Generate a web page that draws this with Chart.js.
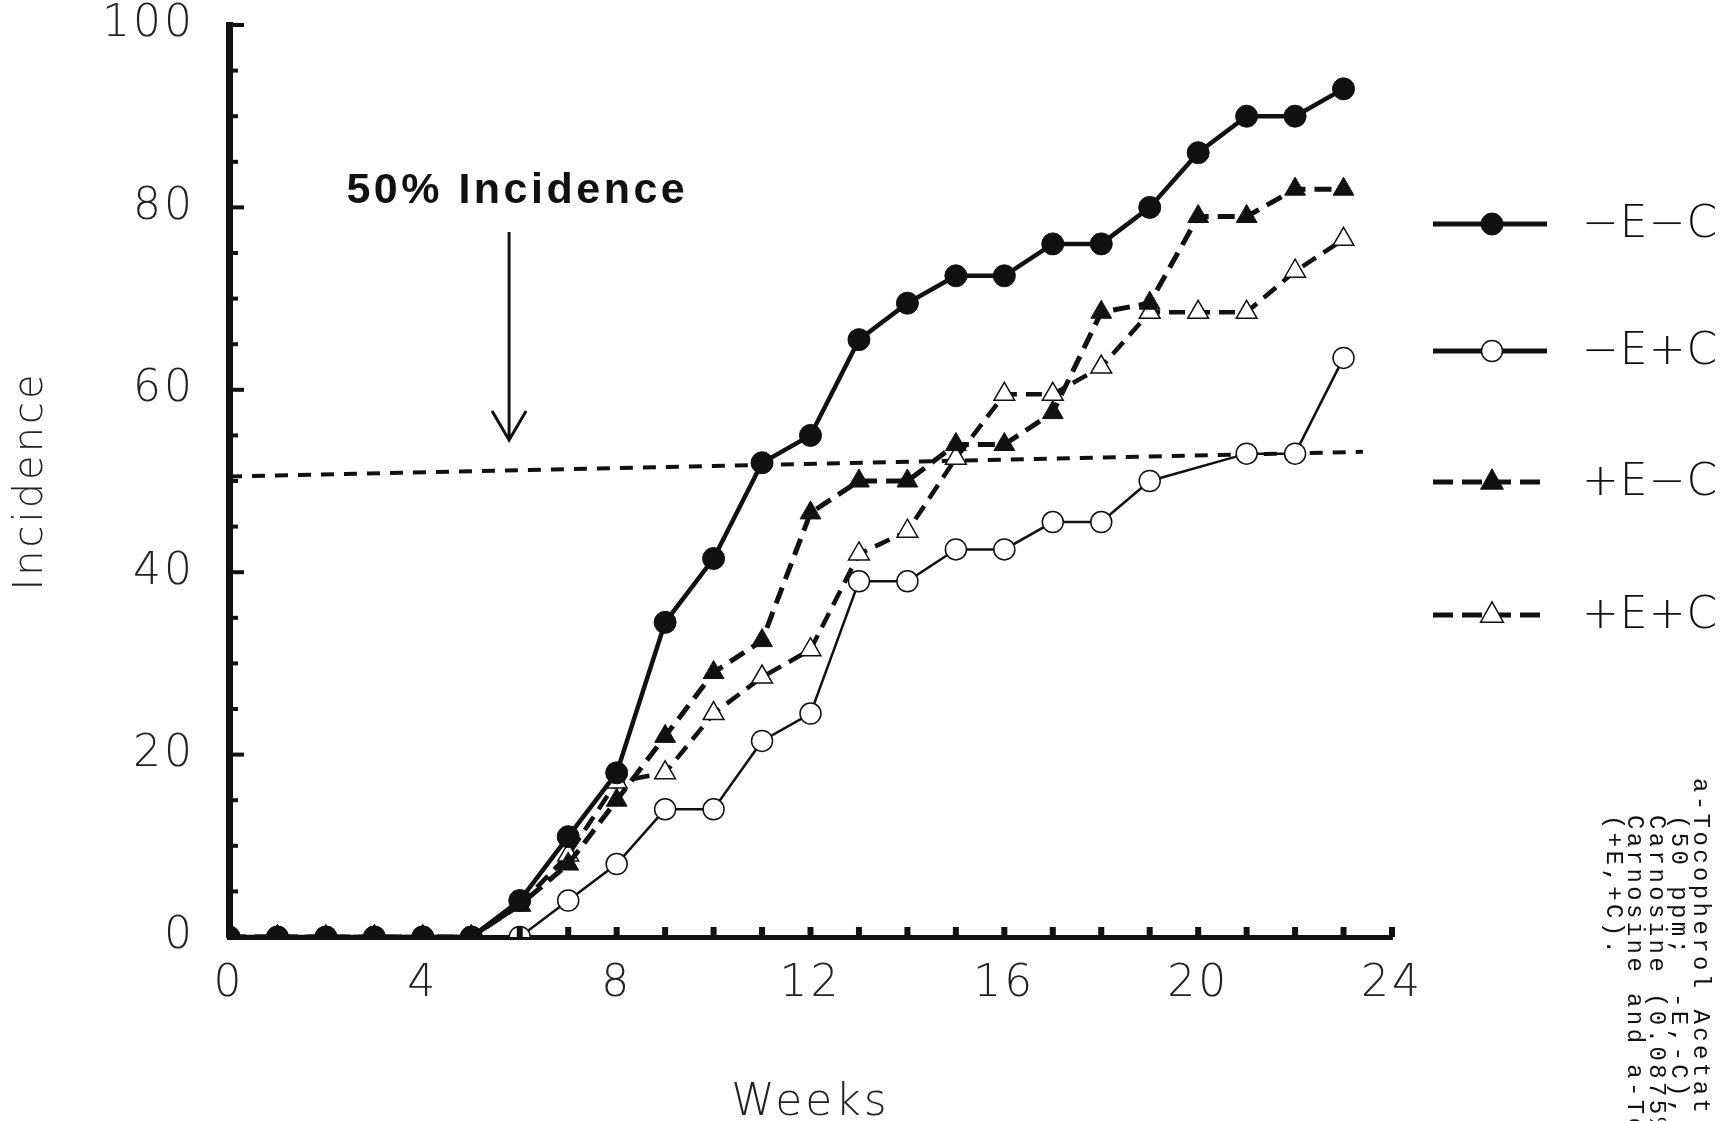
<!DOCTYPE html>
<html>
<head>
<meta charset="utf-8">
<script src="https://cdn.jsdelivr.net/npm/chart.js@4.4.1/dist/chart.umd.min.js"></script>
<style>
  body { margin: 0; background: #fff; }
  canvas { display: block; }
</style>
</head>
<body>
<canvas id="chart" width="1735" height="1121"></canvas>
<script>
const weeks = [0, 1, 2, 3, 4, 5, 6, 7, 8, 9, 10, 11, 12, 13, 14, 15, 16, 17, 18, 19, 20, 21, 22, 23];
const minusEminusC = [0, 0, 0, 0, 0, 0, 4, 11, 18, 34.5, 41.5, 52, 55, 65.5, 69.5, 72.5, 72.5, 76, 76, 80, 86, 90, 90, 93];
const minusEplusC = [0, 0, 0, 0, 0, 0, 0, 4, 8, 14, 14, 21.5, 24.5, 39, 39, 42.5, 42.5, 45.5, 45.5, 50, null, 53, 53, 63.5];
const plusEminusC = [0, 0, 0, 0, 0, 0, 3.5, 8, 15, 22, 29, 32.5, 46.5, 50, 50, 54, 54, 57.5, 68.5, 69.5, 79, 79, 82, 82];
const plusEplusC = [0, 0, 0, 0, 0, 0, 3.5, 9, 17, 18, 24.5, 28.5, 31.5, 42, 44.5, 52.5, 59.5, 59.5, 62.5, 68.5, 68.5, 68.5, 73, 76.5];
const seriesNames = ['\u2212E\u2212C', '\u2212E+C', '+E\u2212C', '+E+C'];
// 50% reference line as it appears in the scan
const refWeeks = [0, 23.4];
const refLevel = [50.5, 53.2];
const footnote = [
  'a-Tocopherol Acetat',
  '(50 ppm;  -E,-C),',
  'Carnosine (0.0875%;',
  'Carnosine and a-Toc',
  '(+E,+C).'
];

const INK = '#111';
const THIN = "'DejaVu Sans', 'Open Sans', sans-serif";

function pts(arr) {
  return weeks.map(function(w, i) { return { x: w, y: arr[i] }; });
}

const spacing = {
  id: 'spacing',
  beforeDraw(chart) { chart.ctx.letterSpacing = '3px'; }
};

const innerTicks = {
  id: 'innerTicks',
  afterDraw(chart) {
    const ctx = chart.ctx;
    const x = chart.scales.x, y = chart.scales.y;
    ctx.save();
    ctx.fillStyle = INK;
    y.ticks.forEach(function(t) {
      const py = y.getPixelForValue(t.value);
      const len = t.value % 20 === 0 ? 15 : 9;
      ctx.fillRect(y.right, py - 2, len, 4);
    });
    x.ticks.forEach(function(t) {
      const px = x.getPixelForValue(t.value);
      ctx.fillRect(px - 3, x.top - 10, 6, 10);
    });
    ctx.restore();
  }
};

const extras = {
  id: 'extras',
  afterDraw(chart) {
    const ctx = chart.ctx;
    const x = chart.scales.x, y = chart.scales.y;
    const sets = chart.data.datasets;
    ctx.save();

    // annotation
    ctx.fillStyle = INK;
    ctx.strokeStyle = INK;
    ctx.font = "bold 43px 'Liberation Sans', Arial, sans-serif";
    ctx.letterSpacing = '3.5px';
    ctx.textAlign = 'center';
    ctx.textBaseline = 'middle';
    ctx.fillText('50% Incidence', x.getPixelForValue(5.95), y.getPixelForValue(81.8));
    ctx.letterSpacing = '0px';
    const ax = x.getPixelForValue(5.78);
    const top = y.getPixelForValue(77.3), tip = y.getPixelForValue(54.5);
    ctx.lineWidth = 3;
    ctx.beginPath();
    ctx.moveTo(ax, top); ctx.lineTo(ax, tip);
    ctx.moveTo(ax - 17, tip - 29); ctx.lineTo(ax, tip); ctx.lineTo(ax + 17, tip - 29);
    ctx.stroke();

    // legend: rows follow seriesNames order
    const rows = [224, 351, 482, 615];
    const order = [0, 2, 1, 3];
    for (let i = 0; i < 4; i++) {
      const ds = sets[order[i]];
      const ly = rows[i];
      ctx.strokeStyle = INK;
      ctx.lineWidth = 5;
      ctx.setLineDash(ds.borderDash ? [20, 9] : []);
      ctx.beginPath();
      ctx.moveTo(1433, ly); ctx.lineTo(1547, ly);
      ctx.stroke();
      ctx.setLineDash([]);
      ctx.fillStyle = ds.pointBackgroundColor;
      ctx.lineWidth = ds.pointBorderWidth;
      ctx.beginPath();
      const r = ds.pointRadius;
      if (ds.pointStyle === 'circle') {
        ctx.arc(1492, ly, r, 0, Math.PI * 2);
      } else {
        ctx.moveTo(1492, ly - r * 1.1);
        ctx.lineTo(1492 + r * 0.95, ly + r * 0.6);
        ctx.lineTo(1492 - r * 0.95, ly + r * 0.6);
        ctx.closePath();
      }
      ctx.fill();
      ctx.stroke();
      ctx.fillStyle = INK;
      ctx.font = '200 44px ' + THIN;
      ctx.textAlign = 'left';
      ctx.letterSpacing = '1px';
      ctx.fillText(seriesNames[i], 1582, ly + 2);
    }

    // rotated typewritten caption
    ctx.font = "24px 'Liberation Mono', 'DejaVu Sans Mono', monospace";
    ctx.letterSpacing = '3.4px';
    ctx.textAlign = 'left';
    ctx.textBaseline = 'middle';
    const cols = [1700, 1678, 1656, 1634, 1613];
    const starts = [778, 815, 815, 815, 815];
    footnote.forEach(function(line, i) {
      ctx.save();
      ctx.translate(cols[i], starts[i]);
      ctx.rotate(Math.PI / 2);
      ctx.fillText(line, 0, 0);
      ctx.restore();
    });
    ctx.restore();
  }
};

const tickFont = { family: THIN, size: 44, weight: '200', lineHeight: 1.0 };

const chart = new Chart(document.getElementById('chart'), {
  type: 'line',
  data: {
    datasets: [
      {
        label: seriesNames[0],
        data: pts(minusEminusC),
        borderColor: INK, borderWidth: 4.5,
        pointStyle: 'circle', pointRadius: 11,
        pointBackgroundColor: INK, pointBorderColor: INK, pointBorderWidth: 1
      },
      {
        label: seriesNames[2],
        data: pts(plusEminusC),
        borderColor: INK, borderWidth: 5, borderDash: [17, 9],
        pointStyle: 'triangle', pointRadius: 12,
        pointBackgroundColor: INK, pointBorderColor: INK, pointBorderWidth: 1
      },
      {
        label: seriesNames[1],
        data: pts(minusEplusC),
        borderColor: INK, borderWidth: 2.5, spanGaps: true,
        pointStyle: 'circle', pointRadius: 10.5,
        pointBackgroundColor: '#fff', pointBorderColor: INK, pointBorderWidth: 1.5
      },
      {
        label: seriesNames[3],
        data: pts(plusEplusC),
        borderColor: INK, borderWidth: 4.5, borderDash: [16, 9],
        pointStyle: 'triangle', pointRadius: 12,
        pointBackgroundColor: '#fff', pointBorderColor: INK, pointBorderWidth: 1.5
      },
      {
        label: '50%',
        data: refWeeks.map(function(w, i) { return { x: w, y: refLevel[i] }; }),
        borderColor: INK, borderWidth: 4, borderDash: [13, 10],
        pointRadius: 0
      }
    ]
  },
  options: {
    responsive: false,
    animation: false,
    layout: { padding: { top: 25, right: 343, bottom: 0, left: 0 } },
    plugins: { legend: { display: false }, tooltip: { enabled: false } },
    elements: { line: { tension: 0 } },
    scales: {
      x: {
        type: 'linear', min: 0, max: 24,
        afterFit: function(s) { s.height = 184; },
        border: { color: INK, width: 5 },
        grid: { display: false, drawTicks: false },
        ticks: {
          stepSize: 1, autoSkip: false, maxRotation: 0, padding: 26,
          color: '#222', font: tickFont,
          callback: function(v) { return v % 4 === 0 ? String(v) : ''; }
        },
        title: {
          display: true, text: 'Weeks', color: '#222',
          font: { family: THIN, size: 44, weight: '200' },
          padding: { top: 0, bottom: -9 }
        }
      },
      y: {
        min: 0, max: 100,
        afterFit: function(s) { s.width = 229; },
        border: { color: INK, width: 7 },
        // invisible tick marks push the labels away from the axis
        grid: { display: false, drawTicks: true, tickLength: 34, tickColor: 'rgba(0,0,0,0)' },
        ticks: {
          stepSize: 5, autoSkip: false, padding: 0,
          color: '#222', font: tickFont,
          callback: function(v) { return v % 20 === 0 ? String(v) : ''; }
        },
        title: {
          display: true, text: 'Incidence', color: '#222',
          font: { family: THIN, size: 40, weight: '200' },
          padding: { top: 8, bottom: 0 }
        }
      }
    }
  },
  plugins: [spacing, innerTicks, extras]
});
</script>
</body>
</html>
